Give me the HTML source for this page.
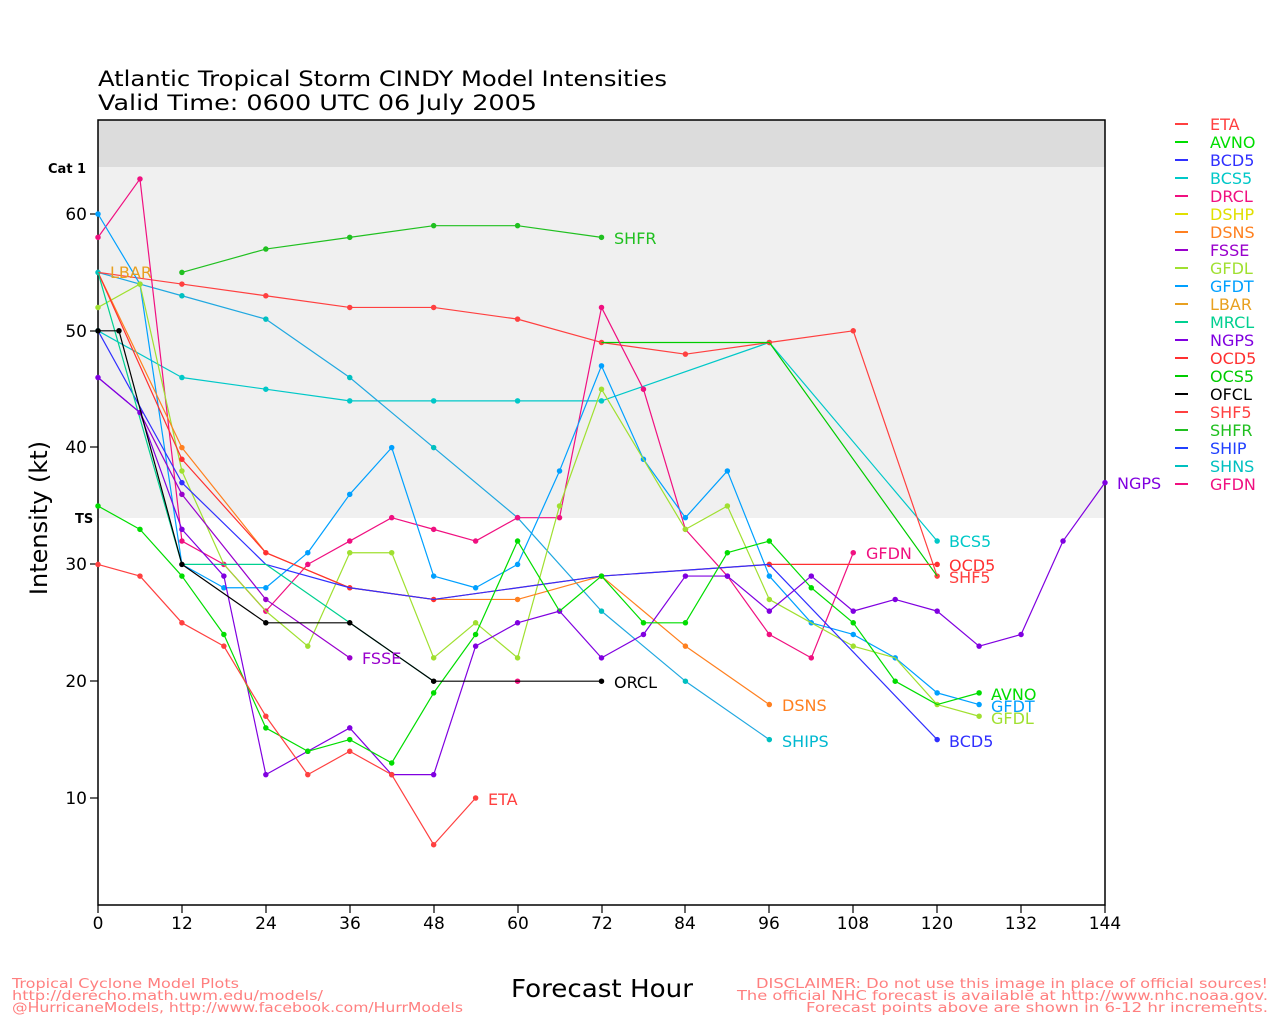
<!DOCTYPE html>
<html><head><meta charset="utf-8"><style>
html,body{margin:0;padding:0;background:#fff}
svg{display:block}
text{font-family:"DejaVu Sans","Liberation Sans",sans-serif}
.l{fill:none;stroke-width:1.2;vector-effect:non-scaling-stroke;stroke-linejoin:round}
.d{fill:none;stroke-width:5.5;stroke-linecap:round;vector-effect:non-scaling-stroke}
</style></head><body>
<svg width="1280" height="1024" viewBox="0 0 1280 1024" xmlns="http://www.w3.org/2000/svg">
<rect x="98" y="120" width="1007" height="47" fill="#dcdcdc"/>
<rect x="98" y="167" width="1007" height="351" fill="#f0f0f0"/>
<rect x="98" y="120" width="1007" height="785" fill="none" stroke="#000" stroke-width="1.5"/>
<text x="98" y="86" font-size="21" textLength="569" lengthAdjust="spacingAndGlyphs">Atlantic Tropical Storm CINDY Model Intensities</text>
<text x="98" y="110" font-size="21" textLength="439" lengthAdjust="spacingAndGlyphs">Valid Time: 0600 UTC 06 July 2005</text>
<text x="48" y="173" font-size="13" font-weight="bold">Cat 1</text>
<text x="75" y="523" font-size="13" font-weight="bold">TS</text>
<g stroke="#000" stroke-width="1.2">
<line x1="90" y1="214" x2="98" y2="214"/><line x1="90" y1="331" x2="98" y2="331"/><line x1="90" y1="447" x2="98" y2="447"/><line x1="90" y1="564" x2="98" y2="564"/><line x1="90" y1="681" x2="98" y2="681"/><line x1="90" y1="798" x2="98" y2="798"/>
<line x1="98" y1="905" x2="98" y2="913"/><line x1="182" y1="905" x2="182" y2="913"/><line x1="266" y1="905" x2="266" y2="913"/><line x1="350" y1="905" x2="350" y2="913"/><line x1="434" y1="905" x2="434" y2="913"/><line x1="518" y1="905" x2="518" y2="913"/><line x1="602" y1="905" x2="602" y2="913"/><line x1="685" y1="905" x2="685" y2="913"/><line x1="769" y1="905" x2="769" y2="913"/><line x1="853" y1="905" x2="853" y2="913"/><line x1="937" y1="905" x2="937" y2="913"/><line x1="1021" y1="905" x2="1021" y2="913"/><line x1="1105" y1="905" x2="1105" y2="913"/>
</g>
<g font-size="17" text-anchor="end">
<text x="87" y="220">60</text><text x="87" y="337">50</text><text x="87" y="453">40</text><text x="87" y="570">30</text><text x="87" y="687">20</text><text x="87" y="804">10</text>
</g>
<g font-size="17" text-anchor="middle">
<text x="98" y="929">0</text><text x="182" y="929">12</text><text x="266" y="929">24</text><text x="350" y="929">36</text><text x="434" y="929">48</text><text x="518" y="929">60</text><text x="602" y="929">72</text><text x="685" y="929">84</text><text x="769" y="929">96</text><text x="853" y="929">108</text><text x="937" y="929">120</text><text x="1021" y="929">132</text><text x="1105" y="929">144</text>
</g>
<text transform="translate(47,518) rotate(-90)" font-size="24" text-anchor="middle">Intensity (kt)</text>
<text x="511" y="997" font-size="25" textLength="182" lengthAdjust="spacingAndGlyphs">Forecast Hour</text>
<g font-size="13" fill="#ff7f7f">
<text x="12" y="988" textLength="227" lengthAdjust="spacingAndGlyphs">Tropical Cyclone Model Plots</text>
<text x="12" y="1000" textLength="311" lengthAdjust="spacingAndGlyphs">http://derecho.math.uwm.edu/models/</text>
<text x="12" y="1012" textLength="451" lengthAdjust="spacingAndGlyphs">@HurricaneModels, http://www.facebook.com/HurrModels</text>
<text x="756" y="988" textLength="512" lengthAdjust="spacingAndGlyphs">DISCLAIMER: Do not use this image in place of official sources!</text>
<text x="737" y="1000" textLength="531" lengthAdjust="spacingAndGlyphs">The official NHC forecast is available at http://www.nhc.noaa.gov.</text>
<text x="806" y="1012" textLength="462" lengthAdjust="spacingAndGlyphs">Forecast points above are shown in 6-12 hr increments.</text>
</g>
<g transform="translate(98,914.8) scale(6.993,-11.68)">
<path class="l" stroke="#00c8c8" d="M0 50L12 46L24 45L36 44L48 44L60 44L72 44L96 49L120 32"/>
<path class="d" stroke="#00c8c8" d="M0 50h0M12 46h0M24 45h0M36 44h0M48 44h0M60 44h0M72 44h0M96 49h0M120 32h0"/>
<path class="l" stroke="#20a8e0" d="M0 55L12 53L24 51L36 46L48 40L60 34L72 26L84 20L96 15"/>
<path class="d" stroke="#00c0c0" d="M0 55h0M12 53h0M24 51h0M36 46h0M48 40h0M60 34h0M72 26h0M84 20h0M96 15h0"/>
<path class="l" stroke="#ff4040" d="M0 55L12 54L24 53L36 52L48 52L60 51L72 49L84 48L96 49L108 50L120 29"/>
<path class="d" stroke="#ff4040" d="M12 54h0M24 53h0M36 52h0M48 52h0M60 51h0M72 49h0M84 48h0M96 49h0M108 50h0M120 29h0"/>
<path class="l" stroke="#00cc00" d="M72 49L96 49L120 29"/>
<path class="l" stroke="#20c020" d="M12 55L24 57L36 58L48 59L60 59L72 58"/>
<path class="d" stroke="#20c020" d="M12 55h0M24 57h0M36 58h0M48 59h0M60 59h0M72 58h0"/>
<path class="l" stroke="#f01080" d="M0 58L6 63L12 32L18 30L24 26L30 30L36 32L42 34L48 33L54 32L60 34L66 34L72 52L78 45L84 33L90 29L96 24L102 22L108 31"/>
<path class="d" stroke="#f01080" d="M0 58h0M6 63h0M12 32h0M18 30h0M24 26h0M30 30h0M36 32h0M42 34h0M48 33h0M54 32h0M60 34h0M66 34h0M72 52h0M78 45h0M84 33h0M90 29h0M96 24h0M102 22h0M108 31h0M60 20h0"/>
<path class="l" stroke="#00a0ff" d="M0 60L6 54L12 30L18 28L24 28L30 31L36 36L42 40L48 29L54 28L60 30L66 38L72 47L78 39L84 34L90 38L96 29L102 25L108 24L114 22L120 19L126 18"/>
<path class="d" stroke="#00a0ff" d="M0 60h0M6 54h0M18 28h0M24 28h0M30 31h0M36 36h0M42 40h0M48 29h0M54 28h0M60 30h0M66 38h0M72 47h0M78 39h0M84 34h0M90 38h0M96 29h0M102 25h0M108 24h0M114 22h0M120 19h0M126 18h0"/>
<path class="l" stroke="#a0e030" d="M0 52L6 54L12 38L18 30L24 26L30 23L36 31L42 31L48 22L54 25L60 22L66 35L72 45L78 39L84 33L90 35L96 27L102 25L108 23L114 22L120 18L126 17"/>
<path class="d" stroke="#a0e030" d="M0 52h0M6 54h0M12 38h0M30 23h0M36 31h0M42 31h0M48 22h0M54 25h0M60 22h0M66 35h0M72 45h0M84 33h0M90 35h0M96 27h0M108 23h0M120 18h0M126 17h0"/>
<path class="l" stroke="#ff8020" d="M0 55L12 40L24 31L36 28L48 27L60 27L72 29L84 23L96 18"/>
<path class="d" stroke="#ff8020" d="M12 40h0M60 27h0M84 23h0M96 18h0"/>
<path class="l" stroke="#ff3030" d="M0 55L12 39L24 31L36 28L48 27L72 29L96 30L120 30"/>
<path class="d" stroke="#ff3030" d="M12 39h0M24 31h0M36 28h0M48 27h0M72 29h0M96 30h0M120 30h0"/>
<path class="l" stroke="#3030ff" d="M0 50L12 37L24 30L36 28L48 27L72 29L96 30L120 15"/>
<path class="d" stroke="#3030ff" d="M12 37h0M120 15h0"/>
<path class="l" stroke="#00d090" d="M0 55L12 30L24 30L36 25L48 20"/>
<path class="l" stroke="#9900cc" d="M0 46L6 43L12 36L24 27L36 22"/>
<path class="d" stroke="#9900cc" d="M12 36h0M24 27h0M36 22h0"/>
<path class="l" stroke="#8000e0" d="M0 46L6 43L12 33L18 29L24 12L30 14L36 16L42 12L48 12L54 23L60 25L66 26L72 22L78 24L84 29L90 29L96 26L102 29L108 26L114 27L120 26L126 23L132 24L138 32L144 37"/>
<path class="d" stroke="#8000e0" d="M0 46h0M6 43h0M12 33h0M18 29h0M24 12h0M30 14h0M36 16h0M42 12h0M48 12h0M54 23h0M60 25h0M66 26h0M72 22h0M78 24h0M84 29h0M90 29h0M96 26h0M102 29h0M108 26h0M114 27h0M120 26h0M126 23h0M132 24h0M138 32h0M144 37h0"/>
<path class="l" stroke="#00dd00" d="M0 35L6 33L12 29L18 24L24 16L30 14L36 15L42 13L48 19L54 24L60 32L66 26L72 29L78 25L84 25L90 31L96 32L102 28L108 25L114 20L120 18L126 19"/>
<path class="d" stroke="#00dd00" d="M0 35h0M6 33h0M12 29h0M18 24h0M24 16h0M30 14h0M36 15h0M42 13h0M48 19h0M54 24h0M60 32h0M72 29h0M78 25h0M84 25h0M90 31h0M96 32h0M102 28h0M108 25h0M114 20h0M126 19h0"/>
<path class="l" stroke="#ff4040" d="M0 30L6 29L12 25L18 23L24 17L30 12L36 14L42 12L48 6L54 10"/>
<path class="d" stroke="#ff4040" d="M0 30h0M6 29h0M12 25h0M18 23h0M24 17h0M30 12h0M36 14h0M42 12h0M48 6h0M54 10h0"/>
<path class="l" stroke="#000" d="M0 50L3 50L12 30L24 25L36 25L48 20L72 20"/>
<path class="d" stroke="#000" d="M0 50h0M3 50h0M12 30h0M24 25h0M36 25h0M48 20h0M72 20h0"/>
</g>
<g font-size="16">
<text x="110" y="278" fill="#e8a020">LBAR</text>
<text x="614" y="244" fill="#20c020">SHFR</text>
<text x="362" y="664" fill="#9900cc">FSSE</text>
<text x="488" y="805" fill="#ff4040">ETA</text>
<text x="614" y="688" fill="#000">ORCL</text>
<text x="782" y="711" fill="#ff8020">DSNS</text>
<text x="782" y="747" fill="#00b8d0">SHIPS</text>
<text x="866" y="559" fill="#f01080">GFDN</text>
<text x="949" y="547" fill="#00c8c8">BCS5</text>
<text x="949" y="571" fill="#ff3030">OCD5</text>
<text x="949" y="583" fill="#ff4040">SHF5</text>
<text x="949" y="747" fill="#3030ff">BCD5</text>
<text x="991" y="700" fill="#00dd00">AVNO</text>
<text x="991" y="712" fill="#00a0ff">GFDT</text>
<text x="991" y="724" fill="#a0e030">GFDL</text>
<text x="1117" y="489" fill="#8000e0">NGPS</text>
</g>
<g font-size="16">
<g stroke-width="2">
<line x1="1175" x2="1188" y1="124" y2="124" stroke="#ff4040"/>
<line x1="1175" x2="1188" y1="142" y2="142" stroke="#00dd00"/>
<line x1="1175" x2="1188" y1="160" y2="160" stroke="#3030ff"/>
<line x1="1175" x2="1188" y1="178" y2="178" stroke="#00c8c8"/>
<line x1="1175" x2="1188" y1="196" y2="196" stroke="#f01080"/>
<line x1="1175" x2="1188" y1="214" y2="214" stroke="#e0e000"/>
<line x1="1175" x2="1188" y1="232" y2="232" stroke="#ff8020"/>
<line x1="1175" x2="1188" y1="250" y2="250" stroke="#9900cc"/>
<line x1="1175" x2="1188" y1="268" y2="268" stroke="#a0e030"/>
<line x1="1175" x2="1188" y1="286" y2="286" stroke="#00a0ff"/>
<line x1="1175" x2="1188" y1="304" y2="304" stroke="#e8a020"/>
<line x1="1175" x2="1188" y1="322" y2="322" stroke="#00d090"/>
<line x1="1175" x2="1188" y1="340" y2="340" stroke="#8000e0"/>
<line x1="1175" x2="1188" y1="358" y2="358" stroke="#ff3030"/>
<line x1="1175" x2="1188" y1="376" y2="376" stroke="#00cc00"/>
<line x1="1175" x2="1188" y1="394" y2="394" stroke="#000"/>
<line x1="1175" x2="1188" y1="412" y2="412" stroke="#ff4040"/>
<line x1="1175" x2="1188" y1="430" y2="430" stroke="#20c020"/>
<line x1="1175" x2="1188" y1="448" y2="448" stroke="#2040ff"/>
<line x1="1175" x2="1188" y1="466" y2="466" stroke="#00c0c0"/>
<line x1="1175" x2="1188" y1="484" y2="484" stroke="#f01080"/>
</g>
<text x="1210" y="130" fill="#ff4040">ETA</text>
<text x="1210" y="148" fill="#00dd00">AVNO</text>
<text x="1210" y="166" fill="#3030ff">BCD5</text>
<text x="1210" y="184" fill="#00c8c8">BCS5</text>
<text x="1210" y="202" fill="#f01080">DRCL</text>
<text x="1210" y="220" fill="#e0e000">DSHP</text>
<text x="1210" y="238" fill="#ff8020">DSNS</text>
<text x="1210" y="256" fill="#9900cc">FSSE</text>
<text x="1210" y="274" fill="#a0e030">GFDL</text>
<text x="1210" y="292" fill="#00a0ff">GFDT</text>
<text x="1210" y="310" fill="#e8a020">LBAR</text>
<text x="1210" y="328" fill="#00d090">MRCL</text>
<text x="1210" y="346" fill="#8000e0">NGPS</text>
<text x="1210" y="364" fill="#ff3030">OCD5</text>
<text x="1210" y="382" fill="#00cc00">OCS5</text>
<text x="1210" y="400" fill="#000">OFCL</text>
<text x="1210" y="418" fill="#ff4040">SHF5</text>
<text x="1210" y="436" fill="#20c020">SHFR</text>
<text x="1210" y="454" fill="#2040ff">SHIP</text>
<text x="1210" y="472" fill="#00c0c0">SHNS</text>
<text x="1210" y="490" fill="#f01080">GFDN</text>
</g>
</svg>
</body></html>
